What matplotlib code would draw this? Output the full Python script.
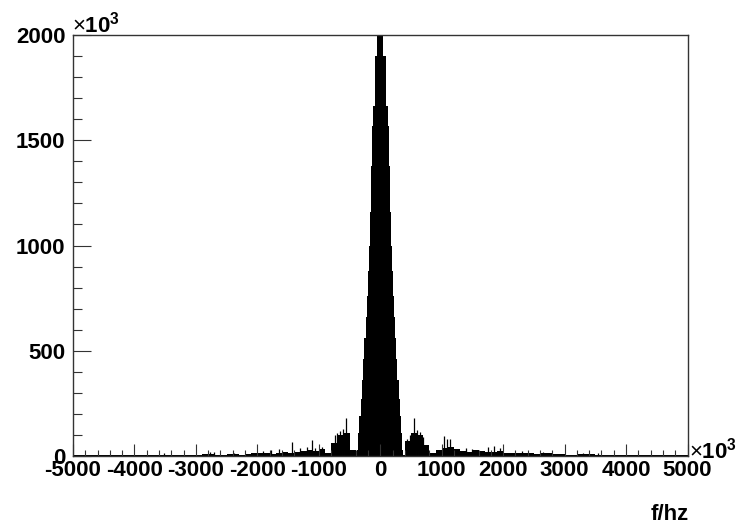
import numpy as np
import matplotlib
matplotlib.use('Agg')
import matplotlib.pyplot as plt
from matplotlib.ticker import MultipleLocator

plt.rcParams['font.family'] = ['Liberation Sans', 'DejaVu Sans']
plt.rcParams['mathtext.fontset'] = 'custom'
plt.rcParams['mathtext.rm'] = 'Liberation Sans'
plt.rcParams['mathtext.bf'] = 'Liberation Sans:bold'
plt.rcParams['axes.unicode_minus'] = False

# ---- data (x in 10^3 Hz, y in 10^3 counts) ----
# noise floor in 100 kHz bins from -5000 to 5000
floor_vals = [
    3, 4, 3, 5, 4, 3, 5, 4, 3, 4,
    4, 5, 4, 6, 5, 4, 6, 5, 5, 6,
    6, 8, 10, 7, 6, 8, 9, 7, 10, 12,
    12, 15, 10, 14, 18, 16, 20, 24, 28, 22,
    35, 15, 60, 100, 110, 30, 5, 5, 5, 5,
    5, 5, 5, 5, 70, 110, 100, 50, 12, 30,
    40, 45, 35, 25, 20, 28, 22, 18, 20, 25,
    15, 12, 14, 16, 12, 10, 12, 14, 10, 8,
    6, 7, 8, 10, 9, 7, 6, 5, 6, 5,
    4, 5, 3, 4, 5, 3, 4, 5, 3, 4,
]
# central peak: half-width bin edges (kHz) and bin values, mirrored about 0
peak_half_edges = [0, 50, 90, 122, 138, 155, 171, 190, 205, 220, 240,
                   260, 280, 300, 320, 340, 360, 378]
peak_vals = [2200, 1900, 1663, 1568, 1378, 1157, 1000, 880, 760, 660,
             560, 460, 360, 270, 190, 110, 30]
# isolated spikes
spike_freqs = [-3520, -2770, -2700, -2380, -1900, -1780, -1650, -1430, -1300,
               -1200, -1110, -1060, -950, -740, -700, -650, -607, -560, -520,
               440, 480, 520, 554, 600, 650, 700, 1030, 1090, 1140, 1400,
               1500, 1760, 1850, 1950, 2300, 2650, 3300, 3550]
spike_heights = [12, 20, 18, 15, 25, 30, 35, 67, 40,
                 45, 76, 40, 45, 100, 110, 120, 128, 180, 60,
                 80, 100, 110, 180, 125, 115, 90, 95, 80, 80, 40,
                 35, 45, 48, 40, 22, 20, 15, 12]

x_min, x_max = -5000, 5000
y_min, y_max = 0, 2000

# ---- figure ----
fig = plt.figure(figsize=(7.41, 5.28), dpi=100)
ax = fig.add_axes([73 / 741, 1 - 456 / 528, (687.5 - 73) / 741, (456 - 35) / 528])

floor_edges = np.linspace(x_min, x_max, len(floor_vals) + 1)
ax.stairs(floor_vals, floor_edges, fill=True, color='black', lw=0)

pe = [-e for e in reversed(peak_half_edges[1:])] + peak_half_edges[1:]
pv = list(reversed(peak_vals[1:])) + peak_vals
ax.stairs(pv, pe, fill=True, color='black', lw=0)

ax.vlines(spike_freqs, 0, spike_heights, color='black', lw=0.9)

ax.set_xlim(x_min, x_max)
ax.set_ylim(y_min, y_max)

for s in ax.spines.values():
    s.set_color('#333333')
    s.set_linewidth(1.0)

ax.xaxis.set_major_locator(MultipleLocator(1000))
ax.xaxis.set_minor_locator(MultipleLocator(200))
ax.yaxis.set_major_locator(MultipleLocator(500))
ax.yaxis.set_minor_locator(MultipleLocator(100))

ax.tick_params(axis='x', which='major', direction='in', length=8.6, width=0.8,
               color='#333333', pad=3, labelsize=16)
ax.tick_params(axis='x', which='minor', direction='in', length=4.3, width=0.8,
               color='#333333')
ax.tick_params(axis='y', which='major', direction='in', length=13, width=0.8,
               color='#333333', pad=5.5, labelsize=16)
ax.tick_params(axis='y', which='minor', direction='in', length=6.5, width=0.8,
               color='#333333')
for lab in ax.get_xticklabels() + ax.get_yticklabels():
    lab.set_fontweight('bold')

fig.text(72 / 741, 1 - 32 / 528, r'$\times\mathbf{10}^{\mathbf{3}}$', fontsize=16,
         ha='left', va='baseline')
fig.text(689 / 741, 1 - 458 / 528, r'$\times\mathbf{10}^{\mathbf{3}}$', fontsize=16,
         ha='left', va='baseline')
fig.text(689 / 741, 1 - 520 / 528, 'f/hz', fontsize=16, fontweight='bold',
         ha='right', va='baseline')

fig.savefig('out.png', dpi=100)
